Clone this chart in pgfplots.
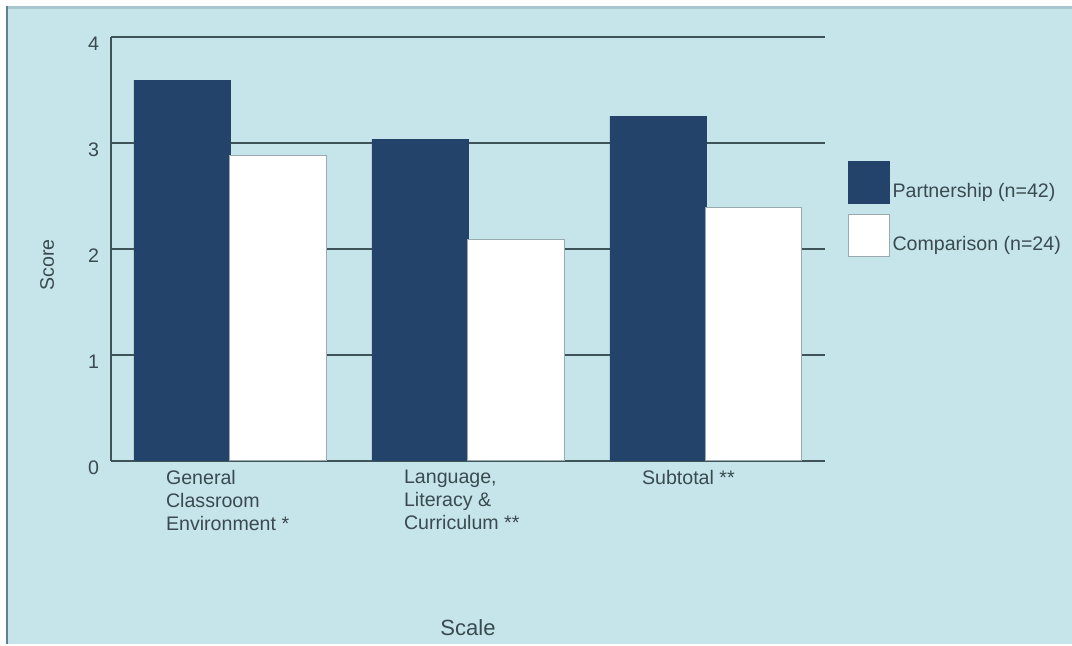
\documentclass[border=0pt]{standalone}
\usepackage{fontspec}
\setmainfont{Liberation Sans}
\usepackage{pgfplots}
\pgfplotsset{compat=1.18}

\definecolor{bgblue}{HTML}{C5E5EA}
\definecolor{navy}{HTML}{24436B}
\definecolor{gridc}{HTML}{3F5459}
\definecolor{txt}{HTML}{3A4A50}
\definecolor{topedge}{HTML}{A7C6CE}
\definecolor{leftedge}{HTML}{5E8090}
\definecolor{barline}{HTML}{9AAAB0}

\newcommand{\smallfont}{\fontsize{9.8}{11.5}\selectfont}

% square legend swatch, sitting slightly below the text baseline
\pgfplotsset{boxlegend/.style={legend image code/.code={%
  \draw[##1] (0pt,-6pt) rectangle (20.5pt,15pt);}}}

\begin{document}
\begin{tikzpicture}
\useasboundingbox (0pt,0pt) rectangle (536pt,323pt);
% panel background and its edges
\fill[white] (0pt,0pt) rectangle (536pt,323pt);
\fill[bgblue] (4pt,1pt) rectangle (536pt,318.5pt);
\fill[topedge] (4pt,318.5pt) rectangle (536pt,320pt);
\fill[leftedge] (3pt,1pt) rectangle (4pt,320pt);

\begin{axis}[
  at={(55.5pt,92.5pt)}, anchor=south west,
  scale only axis, width=357pt, height=212pt,
  ybar=0pt, bar width=48pt,
  xmin=-0.5, xmax=2.5, ymin=0, ymax=4,
  xtick={0,1,2},
  xticklabels={{General\\Classroom\\Environment *},
               {Language,\\Literacy \&\\Curriculum **},
               {Subtotal **}},
  ytick={0,1,2,3,4},
  axis x line*=bottom, axis y line*=left,
  axis line style={gridc, line width=1pt, -},
  ymajorgrids, grid style={gridc, line width=1pt},
  major tick length=0pt,
  /pgf/number format/assume math mode=true,
  tick label style={font=\smallfont, text=txt},
  xticklabel style={align=left, anchor=north west, xshift=-35.5pt, yshift=-1pt},
  yticklabel style={yshift=-3.5pt, xshift=-2.5pt},
  ylabel={Score},
  ylabel style={font=\smallfont, text=txt, at={(axis description cs:-0.0896,0.462)}, anchor=center},
  xlabel={Scale},
  xlabel style={font=\fontsize{11}{13}\selectfont, text=txt, at={(axis description cs:0.5,-0.394)}, anchor=center},
  legend style={at={(1.031,0.708)}, anchor=north west, draw=none, fill=none,
    inner sep=0pt, row sep=5pt, font=\smallfont, text=txt,
    nodes={inner sep=1.5pt}},
  legend cell align=left,
]
\addplot[fill=navy, draw=navy, boxlegend]
  coordinates {(0,3.59) (1,3.035) (2,3.25)};
\addlegendentry{Partnership (n=42)}
\addplot[fill=white, draw=barline, line width=0.5pt, boxlegend]
  coordinates {(0,2.88) (1,2.09) (2,2.39)};
\addlegendentry{Comparison (n=24)}
\end{axis}
\end{tikzpicture}
\end{document}
